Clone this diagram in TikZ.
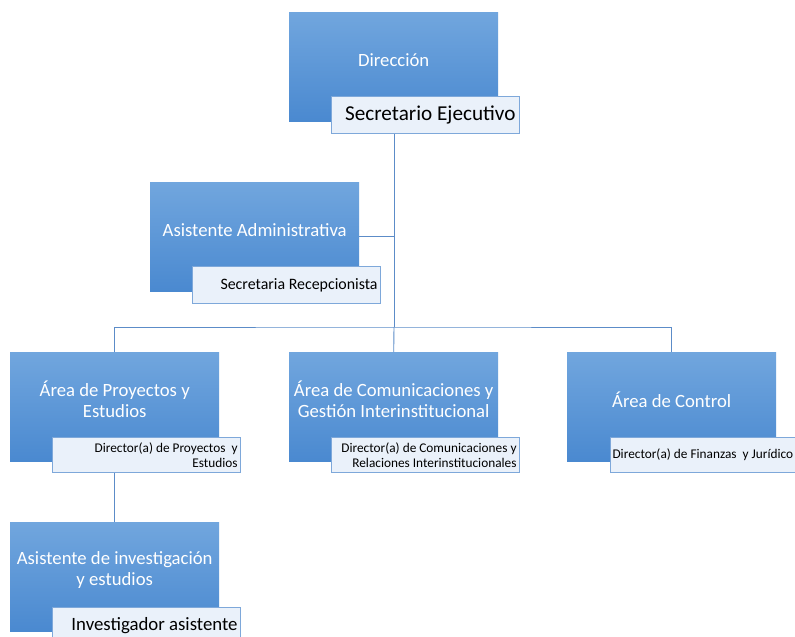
\documentclass[tikz,border=0pt]{standalone}
\usepackage{fontspec}
\setmainfont{Carlito}
\definecolor{boxtop}{HTML}{71A6DE}
\definecolor{boxbot}{HTML}{4A89D0}
\definecolor{subfill}{HTML}{EAF1FA}
\definecolor{subline}{HTML}{7EA8DA}
\definecolor{connc}{HTML}{5C8CC8}
\begin{document}
\begin{tikzpicture}[x=1pt,y=-1pt,
  mainbox/.style={draw=none, top color=boxtop, bottom color=boxbot, minimum width=209pt, minimum height=109pt, inner sep=0pt, anchor=north west},
  maintext/.style={text=white, font=\fontsize{18.7}{21}\selectfont, align=center, inner sep=0pt},
  subbox/.style={draw=subline, line width=1.1pt, fill=subfill, anchor=north west, inner xsep=3pt, inner ysep=0pt, align=flush right, minimum width=188pt, text width=182pt},
  conn/.style={draw=connc, line width=0.9pt}]
\useasboundingbox (0,0) rectangle (795,637);
\clip (0,0) rectangle (795,637);
\fill[white] (0,0) rectangle (795,637);

% main boxes
\node[mainbox] (d)   at (289,12)  {};
\node[mainbox] (aa)  at (150,182) {};
\node[mainbox] (ap)  at (10,352)  {};
\node[mainbox] (acm) at (289,352) {};
\node[mainbox] (act) at (567,352) {};
\node[mainbox] (ai)  at (10,522)  {};

% connectors
\coordinate (bar) at (394,327);
\draw[conn] (d.south -| bar) -- (bar);
\draw[conn] (aa.east) -- (aa.east -| bar);
\draw[conn] (ap.north) |- (bar) -| (act.north);
\draw[conn] (bar) -- (acm.north);
\draw[conn] (ap.south) -- (ai.north);

% main texts
\node[maintext] (dt)   at ([yshift=7pt]d.center)   {Dirección};
\node[maintext] (aat)  at ([yshift=7pt]aa.center)  {Asistente Administrativa};
\node[maintext] (apt)  at ([yshift=7pt]ap.center)  {Área de Proyectos y\\Estudios};
\node[maintext] (acmt) at ([yshift=7pt]acm.center) {Área de Comunicaciones y\\Gestión Interinstitucional};
\node[maintext] (actt) at ([yshift=7pt]act.center) {Área de Control};
\node[maintext] (ait)  at ([yshift=7pt]ai.center)  {Asistente de investigación\\y estudios};

% sub boxes
\node[subbox, minimum height=37pt, inner xsep=3pt, text width=180pt, font=\fontsize{21.2}{24}\selectfont] (sec) at (331,96) {Secretario Ejecutivo};
\node[subbox, minimum height=37pt, font=\fontsize{15.9}{18}\selectfont] (sr) at (192,266) {Secretaria Recepcionista};
\node[subbox, minimum height=35pt, font=\fontsize{13.3}{14.3}\selectfont] (dp) at (52,437) {Director(a) de Proyectos\ \ y\\Estudios};
\node[subbox, minimum height=35pt, font=\fontsize{13.3}{14.3}\selectfont] (dc) at (331,437) {Director(a) de Comunicaciones y\\Relaciones Interinstitucionales};
\node[subbox, minimum height=35pt, minimum width=190pt, inner xsep=2pt, text width=186pt, align=flush left, font=\fontsize{13.3}{14.3}\selectfont] (df) at (610,437) {Director(a) de Finanzas\ \ y Jurídico};
\node[subbox, minimum height=37pt, font=\fontsize{18.8}{21}\selectfont] (inv) at (52,607) {Investigador asistente};
\end{tikzpicture}
\end{document}
